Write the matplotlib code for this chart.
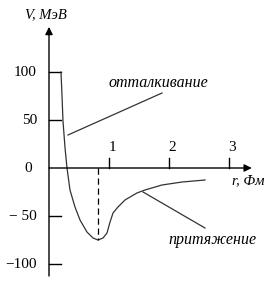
import matplotlib
matplotlib.use("Agg")
import matplotlib.pyplot as plt

# potential curve V(r)
r_vals = [0.20, 0.217, 0.233, 0.267, 0.30, 0.35, 0.433, 0.517, 0.633, 0.733, 0.817,
          0.90, 0.967, 1.017, 1.067, 1.15, 1.267, 1.467, 1.60, 1.883, 2.217, 2.60]
v_vals = [100, 75, 49, 21, 0, -23, -40.6, -54.2, -66.7, -72.9, -75,
          -72.9, -67.7, -56.3, -46.9, -40.6, -33.3, -26, -22.9, -17.7, -14.6, -12.5]

x_ticks = [1, 2, 3]
y_ticks = [100, 50, -50, -100]
y_tick_labels = ["100", "50", "\u2212 50", "\u2212100"]

r_min = 0.817
v_min = -75

serif = "Liberation Serif"

fig = plt.figure(figsize=(2.71, 2.83), dpi=100)
ax = fig.add_axes([0, 0, 1, 1])
ax.set_xlim(-49 / 60, 222 / 60)
ax.set_ylim((168 - 283) / 0.96, 168 / 0.96)
ax.axis("off")

# axes with arrows
arrow = dict(arrowstyle="-|>", color="black", lw=1.0, mutation_scale=11,
             shrinkA=0, shrinkB=0)
ax.annotate("", xy=(0, 147), xytext=(0, -112.5), arrowprops=arrow)
ax.annotate("", xy=(3.38, 0), xytext=(0, 0), arrowprops=arrow)

# ticks
for t in x_ticks:
    ax.plot([t, t], [0, 10.5], color="black", lw=1.0)
    ax.text(t + 0.05, 21.5, str(t), ha="center", va="center",
            family=serif, fontsize=11)
for t, lab in zip(y_ticks, y_tick_labels):
    ax.plot([0, 0.2], [t, t], color="black", lw=1.0)
    ax.text(-0.2, t, lab, ha="right", va="center", family=serif, fontsize=11)
ax.text(-0.35, 0, "0", ha="center", va="center", family=serif, fontsize=11)

# curve and minimum marker
ax.plot(r_vals, v_vals, color="#333333", lw=0.9)
ax.plot([r_min, r_min], [0, v_min], color="black", lw=0.9, dashes=(5, 3))

# annotations
ax.plot([0.317, 1.883], [34.4, 78.1], color="#333333", lw=0.9)
ax.plot([1.567, 2.6], [-25, -62.5], color="#333333", lw=0.9)
ax.text(1.817, 88.5, "отталкивание", ha="center", va="center",
        family=serif, style="italic", fontsize=11.5)
ax.text(2.717, -75, "притяжение", ha="center", va="center",
        family=serif, style="italic", fontsize=11.5)

# axis labels
ax.text(-0.4, 159.5, "V, МэВ", ha="left", va="center",
        family=serif, style="italic", fontsize=10.5)
ax.text(3.05, -13.5, "r, Фм", ha="left", va="center",
        family=serif, style="italic", fontsize=10.5)

fig.savefig("out.png", dpi=100)
